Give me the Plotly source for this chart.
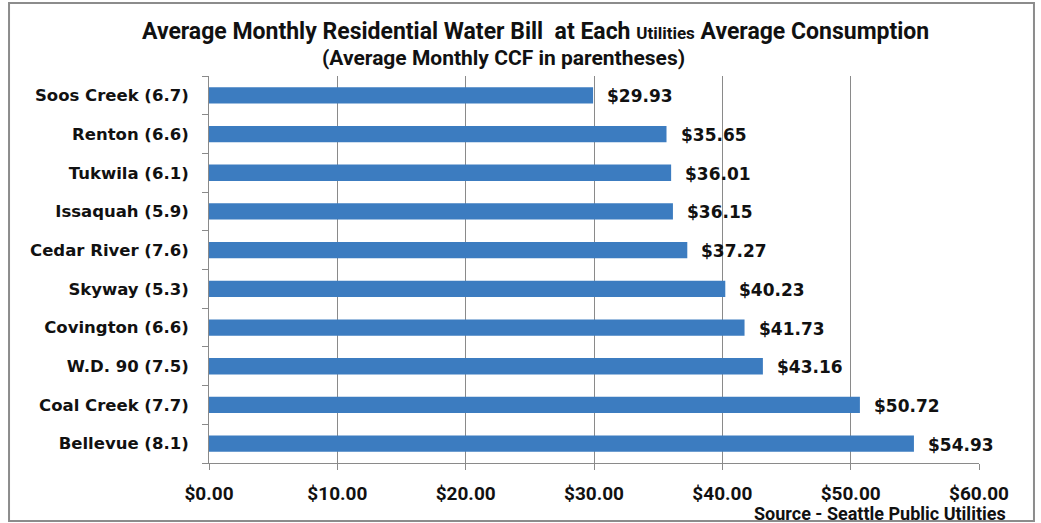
import plotly.graph_objects as go

categories = ["Soos Creek (6.7)", "Renton (6.6)", "Tukwila (6.1)", "Issaquah (5.9)",
              "Cedar River (7.6)", "Skyway (5.3)", "Covington (6.6)", "W.D. 90 (7.5)",
              "Coal Creek (7.7)", "Bellevue (8.1)"]
bills = [29.93, 35.65, 36.01, 36.15, 37.27, 40.23, 41.73, 43.16, 50.72, 54.93]
x_ticks = [0, 10, 20, 30, 40, 50, 60]
x_tick_labels = ["$%.2f" % v for v in x_ticks]

title_line1 = 'Average Monthly Residential Water Bill  at Each <span style="font-size:17px">Utilities</span> Average Consumption'
title_line2 = "(Average Monthly CCF in parentheses)"
source_text = "Source - Seattle Public Utilities"

NARROW = "Roboto, sans-serif"
WIDE = "DejaVu Sans, Verdana, sans-serif"
GRID = "#8a8a8a"

fig = go.Figure()
fig.add_trace(go.Bar(
    x=bills, y=categories, orientation="h",
    marker=dict(color="#3C7CC0", line=dict(width=0)),
    width=0.42, hoverinfo="skip",
))

annotations = []
for c, v in zip(categories, bills):
    annotations.append(dict(
        x=v, y=c, xref="x", yref="y", text="<b>$%.2f</b>" % v,
        showarrow=False, xanchor="left", yanchor="middle", xshift=12, yshift=-1,
        font=dict(family=WIDE, size=17, color="#111111"),
    ))

annotations += [
    dict(x=0.4234, y=1.116, xref="paper", yref="paper", text="<b>" + title_line1 + "</b>",
         showarrow=False, xanchor="center", yanchor="middle",
         font=dict(family=NARROW, size=23, color="#111111")),
    dict(x=0.383, y=1.0465, xref="paper", yref="paper", text="<b>" + title_line2 + "</b>",
         showarrow=False, xanchor="center", yanchor="middle",
         font=dict(family=NARROW, size=21, color="#111111")),
    dict(x=1.0377, y=-0.131, xref="paper", yref="paper", text="<b>" + source_text + "</b>",
         showarrow=False, xanchor="right", yanchor="middle",
         font=dict(family=NARROW, size=18, color="#111111")),
]

fig.update_layout(
    width=1041, height=523,
    margin=dict(l=209, r=62, t=76, b=60),
    paper_bgcolor="white", plot_bgcolor="white",
    showlegend=False,
    annotations=annotations,
    shapes=[dict(type="rect", xref="paper", yref="paper",
                 x0=-0.2597, x1=1.0714, y0=-0.1499, y1=1.1886,
                 line=dict(color="#8c8c8c", width=2), layer="below")],
    xaxis=dict(
        range=[0, 60], tickvals=x_ticks, ticktext=["<b>%s</b>" % t for t in x_tick_labels],
        showgrid=True, gridcolor=GRID, gridwidth=1,
        showline=True, linecolor=GRID, linewidth=1,
        ticks="outside", ticklen=6, tickcolor=GRID,
        ticklabelstandoff=7,
        tickfont=dict(family=NARROW, size=19, color="#111111"),
        zeroline=False, fixedrange=True,
    ),
    yaxis=dict(
        autorange="reversed", type="category",
        tickvals=categories, ticktext=["<b>%s</b>" % c for c in categories],
        showgrid=False, showline=True, linecolor=GRID, linewidth=1,
        ticks="outside", ticklen=6, tickcolor=GRID, tickson="boundaries",
        ticklabelstandoff=16,
        tickfont=dict(family=WIDE, size=16.5, color="#111111"),
        fixedrange=True,
    ),
)

fig.write_html("out.html", config={"displayModeBar": False},
               post_script="document.body.style.margin='0';")
